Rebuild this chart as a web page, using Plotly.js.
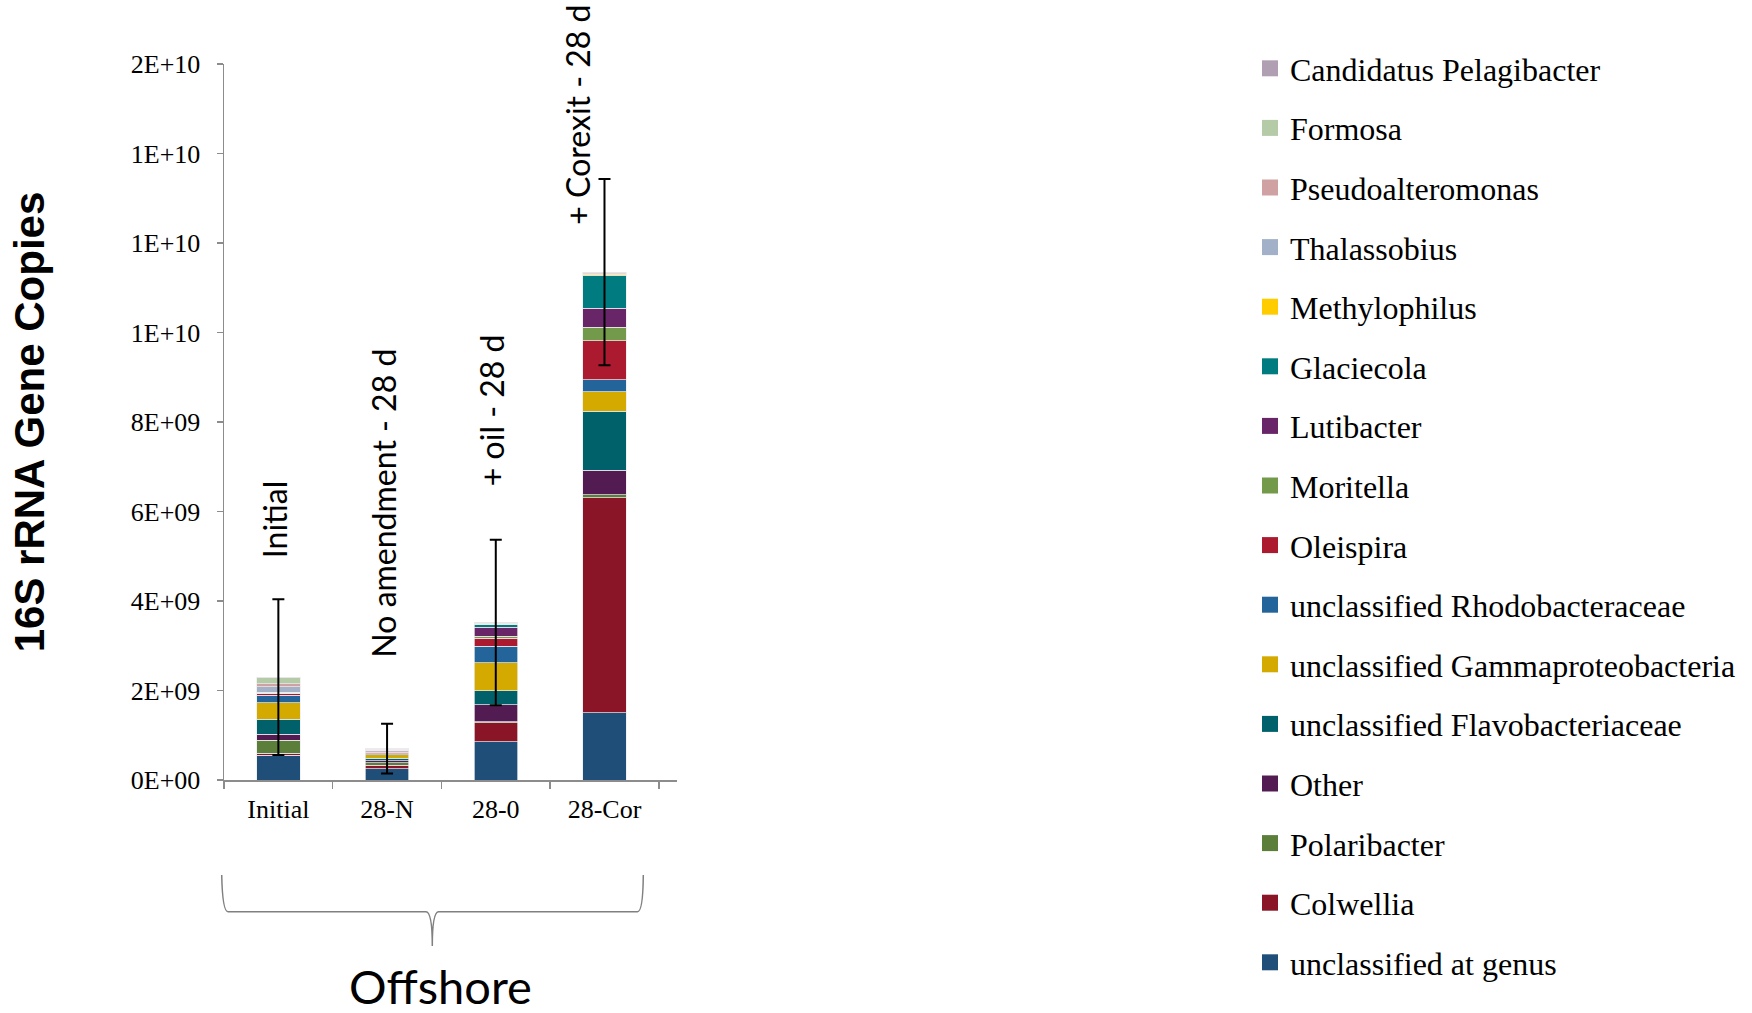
<!DOCTYPE html>
<html>
<head>
<meta charset="utf-8">
<script src="https://cdn.plot.ly/plotly-3.0.1.min.js"></script>
<style>html,body{margin:0;padding:0;background:#fff;}#chart{width:1752px;height:1013px;}</style>
</head>
<body>
<div id="chart"></div>
<script>
// ---- data ----
const categories = ['Initial', '28-N', '28-0', '28-Cor'];

const unclassifiedGenus = [0.55e9, 0.25e9, 0.86e9, 1.50e9];
const colwellia         = [0.05e9, 0.08e9, 0.42e9, 4.81e9];
const polaribacter      = [0.29e9, 0.06e9, 0.02e9, 0.07e9];
const other             = [0.13e9, 0.04e9, 0.38e9, 0.54e9];
const flavobacteriaceae = [0.34e9, 0.06e9, 0.31e9, 1.32e9];
const gammaproteo       = [0.37e9, 0.07e9, 0.63e9, 0.44e9];
const rhodobacteraceae  = [0.16e9, 0.03e9, 0.37e9, 0.26e9];
const oleispira         = [0.04e9, 0.03e9, 0.18e9, 0.88e9];
const moritella         = [0.005e9, 0.01e9, 0.045e9, 0.30e9];
const lutibacter        = [0.005e9, 0.02e9, 0.20e9, 0.42e9];
const glaciecola        = [0.005e9, 0.01e9, 0.06e9, 0.73e9];
const methylophilus     = [0.02e9, 0.005e9, 0.01e9, 0.03e9];
const thalassobius      = [0.12e9, 0.01e9, 0.01e9, 0.01e9];
const pseudoalteromonas = [0.07e9, 0.01e9, 0.01e9, 0.02e9];
const formosa           = [0.13e9, 0.01e9, 0.01e9, 0.01e9];
const pelagibacter      = [0.015e9, 0.005e9, 0.005e9, 0.01e9];

const errorValues = [1.74e9, 0.555e9, 1.85e9, 2.08e9];

const treatmentLabels = ['Initial', 'No amendment - 28 d', '+ oil - 28 d', '+ Corexit - 28 d'];
const treatmentLabelY = [4.92e9, 2.68e9, 6.53e9, 12.36e9];

const yTickValues = [0, 2e9, 4e9, 6e9, 8e9, 10e9, 12e9, 14e9, 16e9];
const yTickLabels = ['0E+00', '2E+09', '4E+09', '6E+09', '8E+09', '1E+10', '1E+10', '1E+10', '2E+10'];

// ---- series (bottom to top) ----
const series = [
  {name: 'unclassified at genus', y: unclassifiedGenus, color: '#1F4E79'},
  {name: 'Colwellia', y: colwellia, color: '#891527'},
  {name: 'Polaribacter', y: polaribacter, color: '#5B7F3A'},
  {name: 'Other', y: other, color: '#521C52'},
  {name: 'unclassified Flavobacteriaceae', y: flavobacteriaceae, color: '#00616A'},
  {name: 'unclassified Gammaproteobacteria', y: gammaproteo, color: '#D4AA00'},
  {name: 'unclassified Rhodobacteraceae', y: rhodobacteraceae, color: '#23649A'},
  {name: 'Oleispira', y: oleispira, color: '#AC1A30'},
  {name: 'Moritella', y: moritella, color: '#739A4B'},
  {name: 'Lutibacter', y: lutibacter, color: '#682669'},
  {name: 'Glaciecola', y: glaciecola, color: '#007B80'},
  {name: 'Methylophilus', y: methylophilus, color: '#FFCC00'},
  {name: 'Thalassobius', y: thalassobius, color: '#A2B1C8'},
  {name: 'Pseudoalteromonas', y: pseudoalteromonas, color: '#D0A1A3'},
  {name: 'Formosa', y: formosa, color: '#B5CAA7'},
  {name: 'Candidatus Pelagibacter', y: pelagibacter, color: '#B09FB3'}
];

const n = series.length;
const traces = series.map(s => ({
  type: 'bar',
  name: s.name,
  legendgroup: s.name,
  showlegend: false,
  x: categories,
  y: s.y,
  width: 0.4,
  marker: {color: s.color, line: {color: 'rgba(235,235,235,0.9)', width: 0.8}},
  hoverinfo: 'name+y'
}));

// legend entries (square swatches) linked to the bar series
series.forEach((s, i) => {
  traces.push({
    type: 'scatter', mode: 'markers',
    name: s.name, legendgroup: s.name, legendrank: n - i,
    x: [null], y: [null],
    marker: {symbol: 'square', size: 16, color: s.color},
    hoverinfo: 'skip'
  });
});

const totals = categories.map((_, i) => series.reduce((acc, s) => acc + s.y[i], 0));
traces.push({
  type: 'scatter',
  mode: 'markers',
  x: categories,
  y: totals,
  marker: {size: 1, opacity: 0},
  showlegend: false,
  hoverinfo: 'skip',
  error_y: {type: 'data', array: errorValues, visible: true, color: '#000', thickness: 2, width: 6}
});

// ---- layout geometry helpers (pixels -> paper) ----
const L = 224, T = 64, W = 453, H = 716;
const px = x => (x - L) / W;
const py = y => (T + H - y) / H;

const bracePath = [
  'M', px(221.7), py(875),
  'Q', px(222.5), py(911.7), px(228), py(911.7),
  'L', px(426), py(911.7),
  'Q', px(432.3), py(912), px(432.3), py(946),
  'Q', px(432.3), py(912), px(438.6), py(911.7),
  'L', px(637.5), py(911.7),
  'Q', px(643), py(911.7), px(643.3), py(875)
].join(' ');

const labelShift = [-4.5, -4, -4.4, -26.7];
const annotations = treatmentLabels.map((t, i) => ({
  x: categories[i], y: treatmentLabelY[i], xref: 'x', yref: 'y',
  text: t, textangle: -90, showarrow: false,
  xanchor: 'center', yanchor: 'bottom', xshift: labelShift[i],
  font: {family: 'Lato, "Open Sans", sans-serif', size: 32, color: '#000'}
}));
annotations.push({
  x: px(440), y: py(986), xref: 'paper', yref: 'paper',
  text: 'Offshore', showarrow: false, xanchor: 'center', yanchor: 'middle',
  font: {family: 'Lato, "Open Sans", sans-serif', size: 47, color: '#000'}
});

const axisGrey = '#8C8C8C';
const layout = {
  width: 1752, height: 1013,
  margin: {l: L, r: 1752 - L - W, t: T, b: 1013 - T - H},
  paper_bgcolor: '#fff', plot_bgcolor: '#fff',
  barmode: 'stack',
  bargap: 0.6,
  showlegend: true,
  font: {family: '"Liberation Serif", "Times New Roman", serif', color: '#000'},
  xaxis: {
    type: 'category', range: [-0.5, 3.667],
    showline: true, linecolor: axisGrey, linewidth: 1.5,
    ticks: 'outside', tickson: 'boundaries', ticklen: 7, tickcolor: axisGrey, tickwidth: 1.5,
    ticklabelstandoff: 5,
    tickfont: {family: '"Liberation Serif", serif', size: 26, color: '#000'},
    showgrid: false, zeroline: false, fixedrange: true
  },
  yaxis: {
    range: [0, 16e9],
    tickvals: yTickValues, ticktext: yTickLabels,
    showline: true, linecolor: axisGrey, linewidth: 1.5,
    ticks: 'outside', ticklen: 6, tickcolor: axisGrey, tickwidth: 1.5,
    ticklabelstandoff: 11,
    tickfont: {family: '"Liberation Serif", serif', size: 26, color: '#000'},
    showgrid: false, zeroline: false, fixedrange: true,
    title: {text: '16S rRNA Gene Copies', standoff: 73,
            font: {family: '"Liberation Sans", Arial, sans-serif', size: 42, color: '#000', weight: 'bold'}}
  },
  legend: {
    x: px(1250), y: py(41), xanchor: 'left', yanchor: 'top',
    traceorder: 'grouped', tracegroupgap: 15, maxheight: 1000,
    font: {family: '"Liberation Serif", serif', size: 32, color: '#000'},
    bgcolor: 'rgba(0,0,0,0)'
  },
  shapes: [{type: 'path', xref: 'paper', yref: 'paper', path: bracePath,
            line: {color: '#808080', width: 1.5}}],
  annotations: annotations
};

Plotly.newPlot('chart', traces, layout, {displayModeBar: false, staticPlot: true});
</script>
</body>
</html>
